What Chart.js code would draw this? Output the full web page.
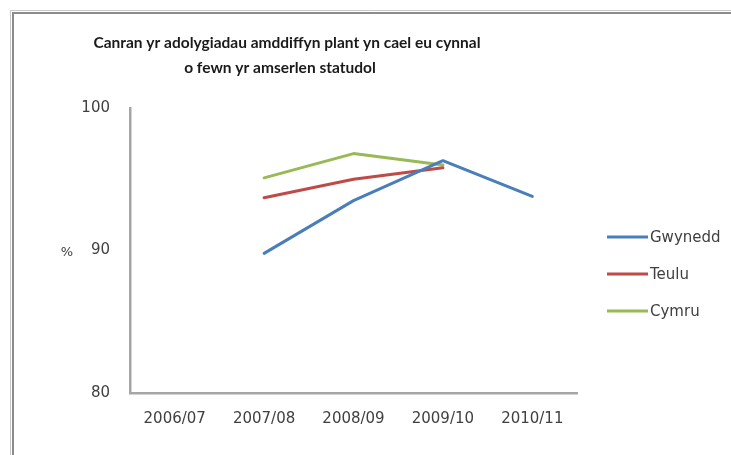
<!DOCTYPE html>
<html>
<head>
<meta charset="utf-8">
<script src="https://cdn.jsdelivr.net/npm/chart.js@4/dist/chart.umd.min.js"></script>
<style>
  html, body { margin: 0; padding: 0; background: #fff; }
  #wrap { width: 731px; height: 455px; position: relative; }
</style>
</head>
<body>
<div id="wrap"><canvas id="chart" width="731" height="455"></canvas></div>
<script>
// ---- data ----
const years = ['2006/07', '2007/08', '2008/09', '2009/10', '2010/11'];
const gwynedd = [null, 89.8, 93.5, 96.3, 93.8];
const teulu = [null, 93.7, 95.0, 95.8, null];
const cymru = [null, 95.1, 96.8, 96.0, null];
const yTicks = [80, 90, 100];

const titleLines = ['Canran yr adolygiadau amddiffyn plant yn cael eu cynnal', 'o fewn yr amserlen statudol'];

// Excel 2007 style colours
const BLUE = '#4a7ebb';
const RED = '#be4b48';
const GREEN = '#98b954';
const AXIS = '#a6a6a6';
const TEXT = '#404040';

// frame, title, "%" label, legend
const decor = {
    id: 'decor',
    afterDraw(chart) {
        const ctx = chart.ctx;
        ctx.save();
        // outer frame (only top/left visible in the picture)
        ctx.strokeStyle = '#c8c8c8';
        ctx.lineWidth = 1;
        ctx.beginPath();
        ctx.moveTo(10.5, 455); ctx.lineTo(10.5, 10.5); ctx.lineTo(731, 10.5);
        ctx.stroke();
        ctx.strokeStyle = '#8c8c8c';
        ctx.lineWidth = 2;
        ctx.beginPath();
        ctx.moveTo(13, 455); ctx.lineTo(13, 13); ctx.lineTo(731, 13);
        ctx.stroke();

        // title
        ctx.fillStyle = '#1a1a1a';
        ctx.font = 'bold 15.5px Lato, "Open Sans", sans-serif';
        ctx.textAlign = 'center';
        ctx.textBaseline = 'middle';
        ctx.fillText(titleLines[0], 287, 43);
        ctx.fillText(titleLines[1], 280, 68);

        // y axis title
        ctx.fillStyle = TEXT;
        ctx.font = '13px "DejaVu Sans", sans-serif';
        ctx.fillText('%', 67, 253);

        // legend
        ctx.textAlign = 'left';
        ctx.font = '15px "DejaVu Sans", sans-serif';
        chart.data.datasets.forEach((ds, i) => {
            const y = 237 + i * 37;
            ctx.strokeStyle = ds.borderColor;
            ctx.lineWidth = 3;
            ctx.beginPath();
            ctx.moveTo(607, y); ctx.lineTo(648, y);
            ctx.stroke();
            ctx.fillStyle = TEXT;
            ctx.fillText(ds.label, 650, y + 1);
        });
        ctx.restore();
    }
};

function noPad(s) {
    s.paddingTop = 0; s.paddingBottom = 0; s.paddingLeft = 0; s.paddingRight = 0;
}

const chart = new Chart(document.getElementById('chart').getContext('2d'), {
    type: 'line',
    data: {
        labels: years,
        datasets: [
            { label: 'Gwynedd', data: gwynedd, borderColor: BLUE, backgroundColor: BLUE },
            { label: 'Teulu', data: teulu, borderColor: RED, backgroundColor: RED },
            { label: 'Cymru', data: cymru, borderColor: GREEN, backgroundColor: GREEN }
        ]
    },
    options: {
        responsive: false,
        animation: false,
        layout: { padding: { top: 108, left: 0, right: 154, bottom: 0 } },
        elements: {
            line: { borderWidth: 3, tension: 0, borderCapStyle: 'round', borderJoinStyle: 'round' },
            point: { radius: 0, hoverRadius: 0 }
        },
        plugins: {
            legend: { display: false },
            title: { display: false },
            tooltip: { enabled: false }
        },
        scales: {
            x: {
                type: 'category',
                offset: true,
                grid: { display: false, drawTicks: false },
                border: { display: true, color: AXIS, width: 2.5 },
                ticks: { color: TEXT, font: { size: 15, family: '"DejaVu Sans", sans-serif' }, padding: 17, maxRotation: 0 },
                afterFit(s) { s.height = 62; noPad(s); }
            },
            y: {
                min: 80,
                max: 100,
                grid: { display: false, drawTicks: false },
                border: { display: true, color: AXIS, width: 2.5 },
                ticks: { color: TEXT, font: { size: 15, family: '"DejaVu Sans", sans-serif' }, padding: 20 },
                afterBuildTicks(s) { s.ticks = yTicks.map(v => ({ value: v })); },
                afterFit(s) { s.width = 130; noPad(s); }
            }
        }
    },
    plugins: [decor]
});
</script>
</body>
</html>
